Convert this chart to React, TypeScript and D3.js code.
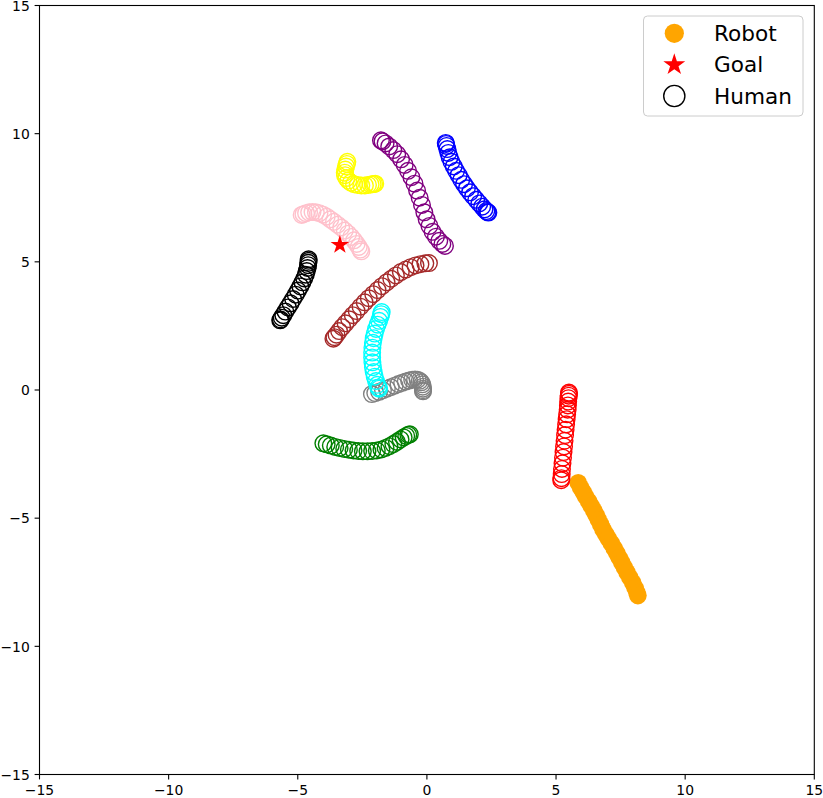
import React from "react";
import * as d3 from "d3";

const W = 823;
const H = 798;

const ticks = [-15, -10, -5, 0, 5, 10, 15];

const robot: [number, number][] = [
  [5.86, -3.62], [5.95, -3.8], [6.05, -3.98], [6.15, -4.16], [6.26, -4.34], [6.36, -4.52],
  [6.46, -4.7], [6.55, -4.88], [6.64, -5.06], [6.73, -5.25], [6.82, -5.44], [6.92, -5.62],
  [7.03, -5.8], [7.14, -5.98], [7.25, -6.17], [7.35, -6.36], [7.45, -6.55], [7.55, -6.74],
  [7.65, -6.93], [7.75, -7.12], [7.86, -7.32], [7.97, -7.52], [8.06, -7.72], [8.13, -7.9],
  [8.17, -8.02],
];

const goal: [number, number] = [-3.37, 5.66];

const humanRed: [number, number][] = [
  [5.5, -0.1], [5.5, -0.15], [5.49, -0.22], [5.48, -0.32], [5.47, -0.45], [5.46, -0.6],
  [5.45, -0.77], [5.43, -0.95], [5.41, -1.14], [5.39, -1.34], [5.37, -1.55], [5.35, -1.76],
  [5.33, -1.98], [5.31, -2.2], [5.29, -2.42], [5.27, -2.64], [5.25, -2.86], [5.23, -3.08],
  [5.22, -3.28], [5.21, -3.44], [5.2, -3.52],
];
const humanBlue: [number, number][] = [
  [0.73, 9.64], [0.74, 9.6], [0.76, 9.52], [0.79, 9.4], [0.83, 9.25], [0.88, 9.08],
  [0.95, 8.9], [1.04, 8.72], [1.13, 8.55], [1.23, 8.38], [1.33, 8.2], [1.44, 8.03],
  [1.55, 7.87], [1.67, 7.71], [1.79, 7.56], [1.91, 7.42], [2.03, 7.28], [2.14, 7.15],
  [2.23, 7.05], [2.3, 6.98], [2.35, 6.94], [2.38, 6.92],
];
const humanPurple: [number, number][] = [
  [-1.78, 9.74], [-1.72, 9.7], [-1.6, 9.62], [-1.46, 9.5], [-1.3, 9.36], [-1.15, 9.2],
  [-1.0, 9.0], [-0.86, 8.78], [-0.73, 8.55], [-0.6, 8.3], [-0.48, 8.05], [-0.38, 7.78],
  [-0.28, 7.5], [-0.19, 7.22], [-0.1, 6.93], [-0.01, 6.66], [0.1, 6.4], [0.22, 6.17],
  [0.35, 5.98], [0.48, 5.82], [0.6, 5.7], [0.7, 5.62],
];
const humanYellow: [number, number][] = [
  [-3.08, 8.9], [-3.1, 8.82], [-3.13, 8.72], [-3.16, 8.6], [-3.18, 8.48], [-3.17, 8.38],
  [-3.12, 8.27], [-3.04, 8.17], [-2.94, 8.09], [-2.82, 8.03], [-2.68, 8.0], [-2.54, 7.98],
  [-2.4, 7.98], [-2.28, 8.0], [-2.18, 8.02], [-2.1, 8.03], [-2.04, 8.04], [-2.0, 8.05],
];
const humanPink: [number, number][] = [
  [-4.85, 6.83], [-4.78, 6.86], [-4.68, 6.9], [-4.56, 6.93], [-4.43, 6.94], [-4.3, 6.93],
  [-4.16, 6.9], [-4.02, 6.84], [-3.88, 6.76], [-3.74, 6.66], [-3.6, 6.56], [-3.46, 6.45],
  [-3.32, 6.34], [-3.18, 6.22], [-3.05, 6.1], [-2.93, 5.97], [-2.82, 5.84], [-2.72, 5.7],
  [-2.64, 5.58], [-2.58, 5.48], [-2.54, 5.41],
];
const humanBlack: [number, number][] = [
  [-4.58, 5.1], [-4.58, 5.04], [-4.59, 4.96], [-4.6, 4.87], [-4.62, 4.76], [-4.65, 4.64],
  [-4.69, 4.5], [-4.75, 4.35], [-4.82, 4.2], [-4.9, 4.04], [-4.99, 3.88], [-5.08, 3.72],
  [-5.18, 3.55], [-5.28, 3.38], [-5.38, 3.22], [-5.48, 3.06], [-5.56, 2.92], [-5.62, 2.82],
  [-5.66, 2.75], [-5.68, 2.72],
];
const humanBrown: [number, number][] = [
  [-3.62, 2.0], [-3.58, 2.06], [-3.5, 2.16], [-3.4, 2.3], [-3.28, 2.45], [-3.15, 2.6],
  [-3.01, 2.76], [-2.87, 2.92], [-2.72, 3.08], [-2.57, 3.25], [-2.41, 3.42], [-2.25, 3.58],
  [-2.08, 3.74], [-1.91, 3.9], [-1.74, 4.05], [-1.56, 4.2], [-1.38, 4.34], [-1.2, 4.47],
  [-1.01, 4.6], [-0.82, 4.7], [-0.63, 4.79], [-0.44, 4.86], [-0.25, 4.91], [-0.06, 4.94],
  [0.08, 4.95],
];
const humanCyan: [number, number][] = [
  [-1.75, 3.04], [-1.77, 2.96], [-1.8, 2.85], [-1.85, 2.7], [-1.91, 2.55], [-1.97, 2.38],
  [-2.02, 2.2], [-2.06, 2.02], [-2.09, 1.84], [-2.11, 1.65], [-2.12, 1.46], [-2.12, 1.27],
  [-2.11, 1.08], [-2.09, 0.89], [-2.06, 0.7], [-2.02, 0.52], [-1.97, 0.35], [-1.92, 0.2],
  [-1.88, 0.1], [-1.85, 0.05],
];
const humanGray: [number, number][] = [
  [-2.13, -0.16], [-2.0, -0.12], [-1.85, -0.07], [-1.7, -0.01], [-1.55, 0.05], [-1.4, 0.11],
  [-1.25, 0.17], [-1.1, 0.23], [-0.96, 0.28], [-0.82, 0.33], [-0.69, 0.37], [-0.57, 0.4],
  [-0.46, 0.41], [-0.36, 0.4], [-0.28, 0.36], [-0.22, 0.3], [-0.18, 0.22], [-0.16, 0.13],
  [-0.15, 0.05], [-0.15, -0.01], [-0.15, -0.05],
];
const humanGreen: [number, number][] = [
  [-4.01, -2.08], [-3.88, -2.12], [-3.72, -2.17], [-3.55, -2.22], [-3.38, -2.26], [-3.2, -2.3],
  [-3.02, -2.33], [-2.84, -2.36], [-2.66, -2.38], [-2.48, -2.39], [-2.3, -2.39], [-2.12, -2.38],
  [-1.94, -2.36], [-1.76, -2.32], [-1.6, -2.26], [-1.45, -2.19], [-1.3, -2.11], [-1.16, -2.02],
  [-1.02, -1.93], [-0.9, -1.85], [-0.8, -1.79], [-0.72, -1.75], [-0.66, -1.73],
];

const humans: { color: string; pts: [number, number][] }[] = [
  { color: "#ff0000", pts: humanRed },
  { color: "#0000ff", pts: humanBlue },
  { color: "#008000", pts: humanGreen },
  { color: "#800080", pts: humanPurple },
  { color: "#ffff00", pts: humanYellow },
  { color: "#ffc0cb", pts: humanPink },
  { color: "#000000", pts: humanBlack },
  { color: "#a52a2a", pts: humanBrown },
  { color: "#808080", pts: humanGray },
  { color: "#00ffff", pts: humanCyan },
];

const legendLabels = ["Robot", "Goal", "Human"];

function starPath(cx: number, cy: number, R: number) {
  const r = R * 0.381966;
  const pts: string[] = [];
  for (let i = 0; i < 10; i++) {
    const rad = i % 2 === 0 ? R : r;
    const a = (Math.PI / 5) * i - Math.PI / 2;
    pts.push(`${cx + rad * Math.cos(a)},${cy + rad * Math.sin(a)}`);
  }
  return "M" + pts.join("L") + "Z";
}

export default function App() {
  const x = d3.scaleLinear().domain([-15, 15]).range([39.5, 814.3]);
  const y = d3.scaleLinear().domain([-15, 15]).range([774.5, 5.5]);
  const font = "DejaVu Sans, sans-serif";
  const R = 8.3;

  return (
    <svg width={W} height={H} style={{ position: "absolute", left: 0, top: 0 }}>
      <rect x={0} y={0} width={W} height={H} fill="#fff" />
      {robot.map((p, i) => (
        <circle key={"r" + i} cx={x(p[0])} cy={y(p[1])} r={8.8} fill="#ffa500" />
      ))}
      {humans.map((h, hi) =>
        h.pts.map((p, i) => (
          <circle
            key={hi + "-" + i}
            cx={x(p[0])}
            cy={y(p[1])}
            r={R}
            fill="none"
            stroke={h.color}
            strokeWidth={1.4}
          />
        ))
      )}
      <path d={starPath(x(goal[0]), y(goal[1]), 9.8)} fill="#ff0000" />

      <rect x={39.5} y={5.5} width={814.3 - 39.5} height={774.5 - 5.5} fill="none" stroke="#000" strokeWidth={1.1} />
      {ticks.map((t) => (
        <g key={"xt" + t}>
          <line x1={x(t)} x2={x(t)} y1={774.5} y2={779.4} stroke="#000" strokeWidth={1.1} />
          <text x={x(t)} y={795} textAnchor="middle" fontFamily={font} fontSize={13.9} fill="#000">
            {t < 0 ? "\u2212" + Math.abs(t) : String(t)}
          </text>
        </g>
      ))}
      {ticks.map((t) => (
        <g key={"yt" + t}>
          <line x1={34.6} x2={39.5} y1={y(t)} y2={y(t)} stroke="#000" strokeWidth={1.1} />
          <text x={29.8} y={y(t) + 5.2} textAnchor="end" fontFamily={font} fontSize={13.9} fill="#000">
            {t < 0 ? "\u2212" + Math.abs(t) : String(t)}
          </text>
        </g>
      ))}

      <rect x={643.5} y={16} width={159.5} height={100} rx={4} fill="#fff" fillOpacity={0.8} stroke="#cccccc" strokeWidth={1} />
      <circle cx={674.3} cy={33.3} r={9.6} fill="#ffa500" />
      <path d={starPath(674.3, 64.8, 11.5)} fill="#ff0000" />
      <circle cx={674.3} cy={96} r={10.6} fill="none" stroke="#000" strokeWidth={1.4} />
      {legendLabels.map((l, i) => (
        <text key={l} x={714} y={[33.3, 64.5, 96][i] + 7.7} fontFamily={font} fontSize={21.6} fill="#000">
          {l}
        </text>
      ))}
    </svg>
  );
}
